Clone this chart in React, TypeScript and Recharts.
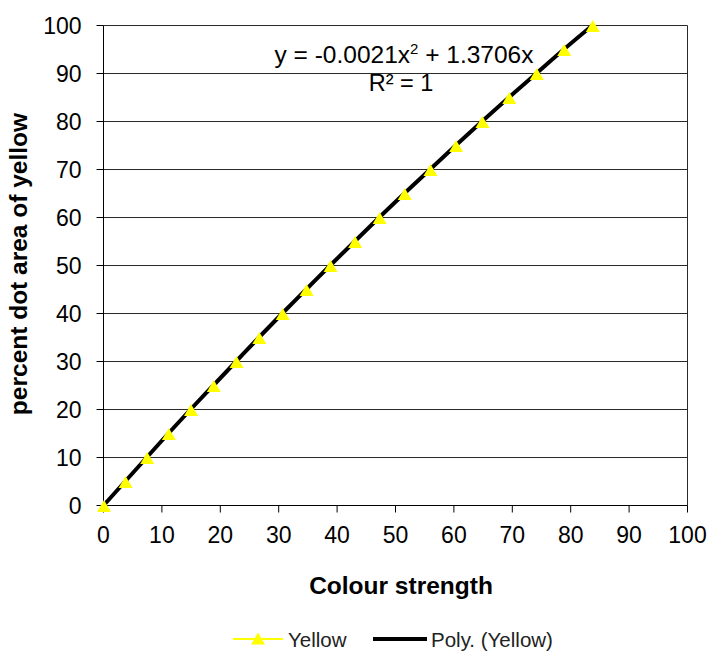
import React from 'react';
import {
  ComposedChart,
  Line,
  XAxis,
  YAxis,
  CartesianGrid,
  ReferenceLine,
  Legend,
  Customized,
} from 'recharts';

const FONT = '"Liberation Sans", Arial, Helvetica, sans-serif';

// Colour strength (x) for each percent dot area step (y)
const colourStrength = [
  0, 3.7, 7.4, 11.1, 14.9, 18.8, 22.7, 26.6, 30.6, 34.7, 38.8,
  43.0, 47.2, 51.5, 55.9, 60.3, 64.8, 69.4, 74.1, 78.8, 83.7,
];
const dotArea = [
  0, 5, 10, 15, 20, 25, 30, 35, 40, 45, 50,
  55, 60, 65, 70, 75, 80, 85, 90, 95, 100,
];
const xTicks = [0, 10, 20, 30, 40, 50, 60, 70, 80, 90, 100];
const yTicks = [0, 10, 20, 30, 40, 50, 60, 70, 80, 90, 100];

const seriesName = 'Yellow';
const trendName = 'Poly. (Yellow)';
const xTitle = 'Colour strength';
const yTitle = 'percent dot area of yellow';
const eqPart1 = 'y = -0.0021x';
const eqSup = '2';
const eqPart2 = ' + 1.3706x';
const r2Text = 'R\u00B2 = 1';

const data = colourStrength.map((x, i) => ({ x, y: dotArea[i] }));

const YELLOW = '#FFFF00';
const GRID = '#2a2a2a';

const Triangle = (props: any) => {
  const { cx, cy } = props;
  if (cx == null || cy == null) return null;
  return (
    <polygon
      points={`${cx + 0.5},${cy - 5.5} ${cx + 7.5},${cy + 6.5} ${cx - 6.5},${cy + 6.5}`}
      fill={YELLOW}
      stroke="none"
    />
  );
};

const LegendContent = () => (
  <svg width={712} height={30} style={{ display: 'block' }}>
    <line x1={233} x2={283} y1={15} y2={15} stroke={YELLOW} strokeWidth={2} />
    <polygon points="258,8.5 265,20.5 251,20.5" fill={YELLOW} />
    <text x={288} y={15} dominantBaseline="central" fontSize={20.5} fill="#222" fontFamily={FONT}>
      {seriesName}
    </text>
    <line x1={373} x2={427} y1={15} y2={15} stroke="#000" strokeWidth={4} />
    <text x={431} y={15} dominantBaseline="central" fontSize={20.5} fill="#222" fontFamily={FONT}>
      {trendName}
    </text>
  </svg>
);

const Overlay = () => (
  <g fontFamily={FONT}>
    <text x={404} y={63} textAnchor="middle" fontSize={24.5} fill="#000">
      {eqPart1}
      <tspan fontSize={15} dy={-9}>{eqSup}</tspan>
      <tspan dy={9}>{eqPart2}</tspan>
    </text>
    <text x={401} y={91} textAnchor="middle" fontSize={23.5} fill="#000">
      {r2Text}
    </text>
    <text x={401} y={594} textAnchor="middle" fontSize={24.5} fontWeight="bold" fill="#000">
      {xTitle}
    </text>
    <text
      x={27}
      y={264}
      textAnchor="middle"
      fontSize={24.5}
      fontWeight="bold"
      fill="#000"
      transform="rotate(-90 27 264)"
    >
      {yTitle}
    </text>
  </g>
);

export default function App() {
  return (
    <div style={{ position: 'absolute', left: 0, top: 0, width: 712, height: 654, background: '#fff' }}>
      <ComposedChart
        width={712}
        height={654}
        data={data}
        margin={{ top: 25.5, right: 24.5, left: 0, bottom: 0 }}
        style={{ fontFamily: FONT }}
      >
        <CartesianGrid vertical={false} stroke={GRID} strokeWidth={1} />
        <ReferenceLine x={100} stroke={GRID} strokeWidth={1} />
        <XAxis
          type="number"
          dataKey="x"
          domain={[0, 100]}
          ticks={xTicks}
          interval={0}
          height={118.5}
          tickSize={7}
          tickMargin={14}
          axisLine={{ stroke: '#000' }}
          tickLine={{ stroke: '#000' }}
          tick={{ fontSize: 23, fill: '#000', fontFamily: FONT }}
        />
        <YAxis
          type="number"
          domain={[0, 100]}
          ticks={yTicks}
          interval={0}
          width={103.5}
          tickSize={7}
          tickMargin={15}
          axisLine={{ stroke: '#000' }}
          tickLine={{ stroke: '#000' }}
          tick={{ fontSize: 23, fill: '#000', fontFamily: FONT }}
        />
        <Line
          name={seriesName}
          dataKey="y"
          type="linear"
          stroke={YELLOW}
          strokeWidth={2}
          dot={<Triangle />}
          activeDot={false}
          isAnimationActive={false}
        />
        <Line
          name={trendName}
          dataKey="y"
          type="monotone"
          stroke="#000"
          strokeWidth={4}
          dot={false}
          activeDot={false}
          isAnimationActive={false}
        />
        <Legend
          verticalAlign="bottom"
          height={30}
          content={<LegendContent />}
          wrapperStyle={{ left: 0, bottom: 0, width: 712, height: 30 }}
        />
        <Customized component={Overlay} />
      </ComposedChart>
    </div>
  );
}
